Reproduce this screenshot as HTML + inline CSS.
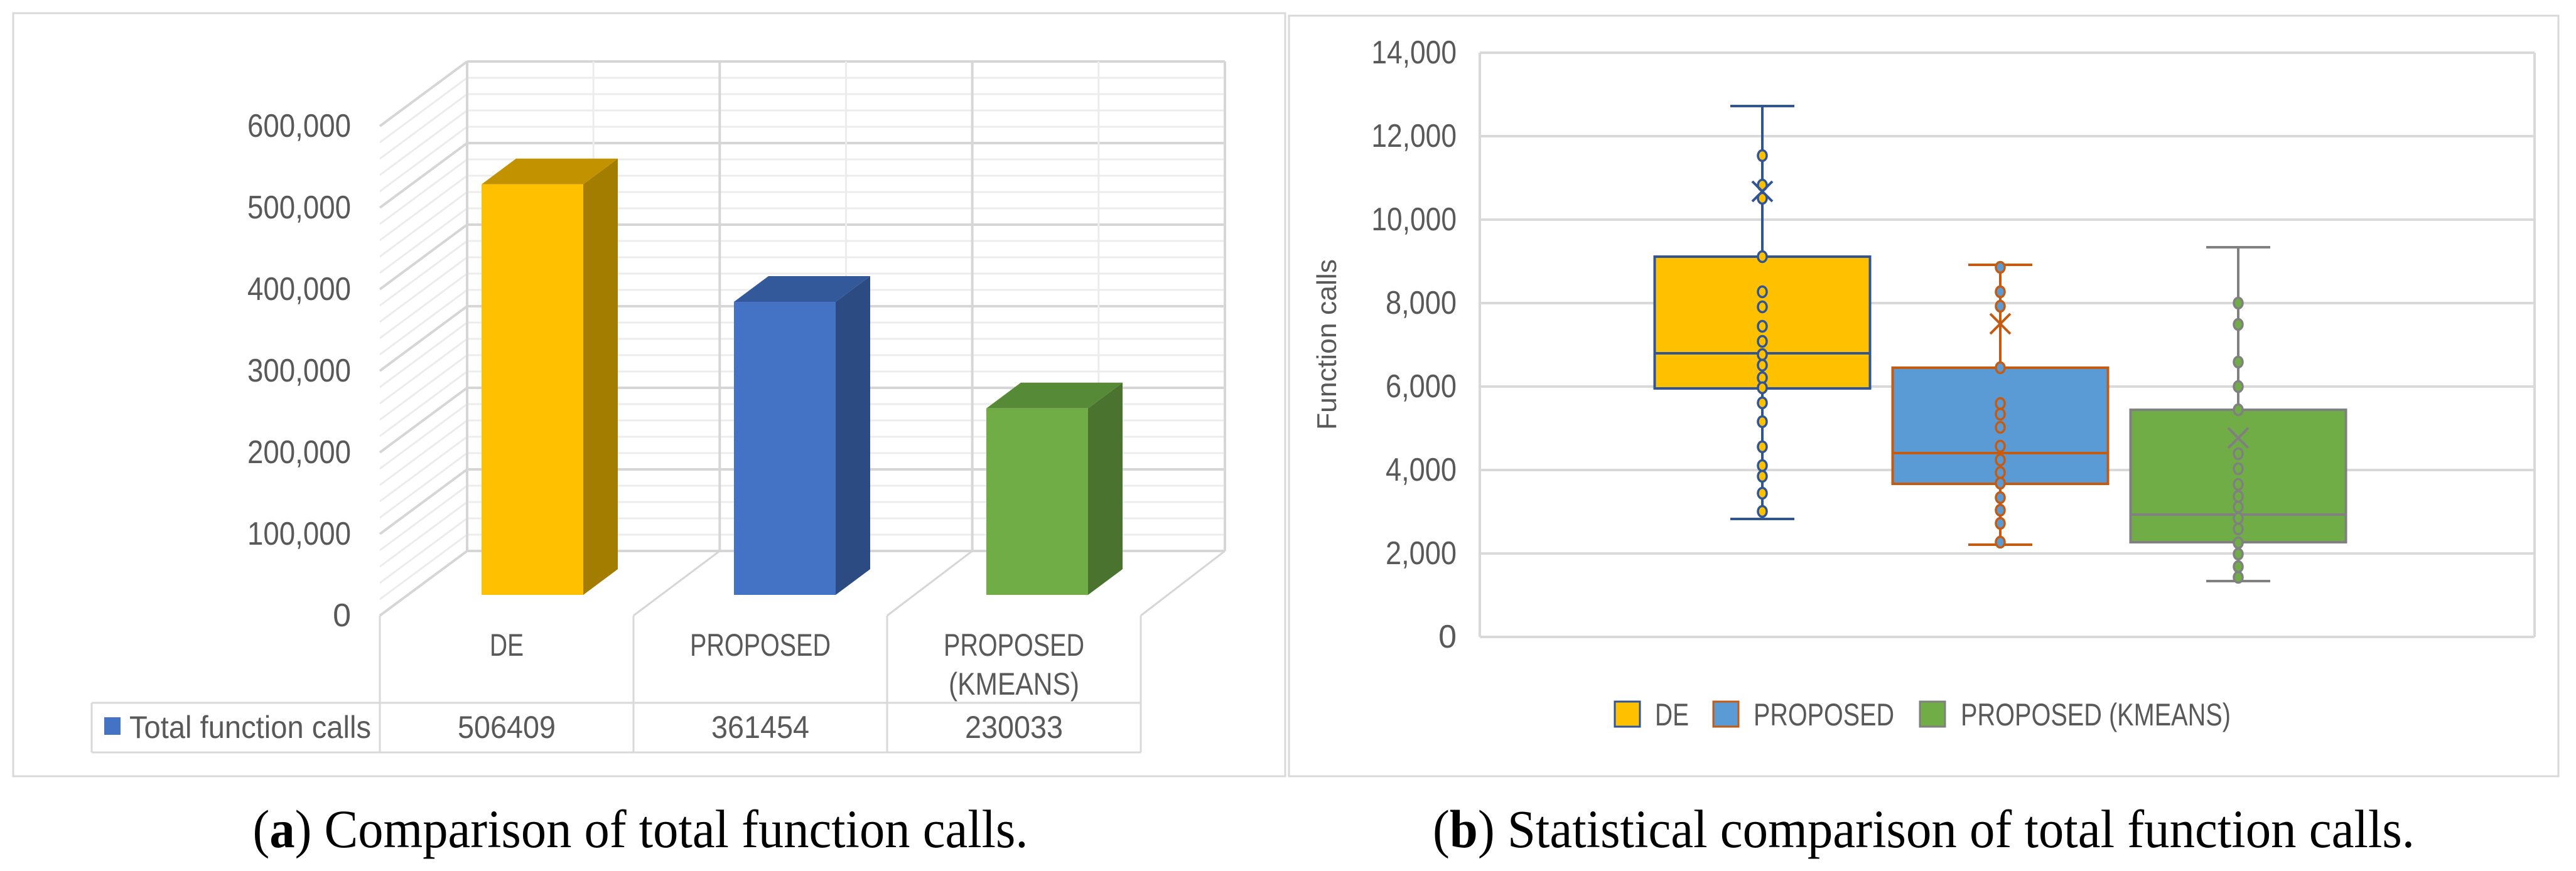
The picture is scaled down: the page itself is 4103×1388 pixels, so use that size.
<!DOCTYPE html>
<html><head><meta charset="utf-8"><style>
html,body{margin:0;padding:0;background:#fff;}
svg{display:block;}
text{font-family:"Liberation Sans",sans-serif;fill:#595959;}
.cap{font-family:"Liberation Serif",serif;fill:#000;}
</style></head><body>
<svg id="root" width="4103" height="1388" viewBox="0 0 4103 1388" xmlns="http://www.w3.org/2000/svg">
<rect x="21" y="21" width="2026" height="1216" fill="#fff" stroke="#d9d9d9" stroke-width="3"/>
<rect x="2053" y="25" width="2022" height="1212" fill="#fff" stroke="#d9d9d9" stroke-width="3"/>
<g id="chartA"></g>
<g id="chartB"></g>
<text class="cap" x="1020" y="1350" font-size="86" text-anchor="middle" textLength="1235" lengthAdjust="spacingAndGlyphs">(<tspan font-weight="bold">a</tspan>) Comparison of total function calls.</text>
<text class="cap" x="3064" y="1350" font-size="86" text-anchor="middle" textLength="1564" lengthAdjust="spacingAndGlyphs">(<tspan font-weight="bold">b</tspan>) Statistical comparison of total function calls.</text>
</svg>
<script>
// ---- Chart A data ----
const catsA = ["DE", "PROPOSED", "PROPOSED (KMEANS)"];
const valuesA = [506409, 361454, 230033];
const ticksA = [0, 100000, 200000, 300000, 400000, 500000, 600000];
// ---- Chart B data ----
const catsB = ["DE", "PROPOSED", "PROPOSED (KMEANS)"];
const minB = [2827, 2210, 1338];
const q1B = [5955, 3669, 2270];
const medB = [6797, 4406, 2932];
const q3B = [9113, 6451, 5443];
const maxB = [12722, 8917, 9338];
const meanB = [10677, 7504, 4767];
const ptsDE = [11534,10827,10511,9113,8271,7910,7444,7083,6767,6511,6211,5970,5609,5158,4556,4105,3850,3444,3008];
const ptsP = [8857,8271,7925,6451,5594,5338,5023,4571,4241,3940,3684,3338,3038,2722,2270];
const ptsK = [8000,7489,6586,6000,5443,4391,4030,3654,3368,3113,2842,2586,2256,1985,1684,1429];
const ticksB = [0,2000,4000,6000,8000,10000,12000,14000];

const NS = "http://www.w3.org/2000/svg";
function mk(parent, tag, attrs, txt){const e=document.createElementNS(NS,tag);for(const k in attrs)e.setAttribute(k,attrs[k]);if(txt!==undefined)e.textContent=txt;parent.appendChild(e);return e;}
const fmt = v => v.toLocaleString("en-US");

// ===== Chart A =====
(function(){
const g = document.getElementById("chartA");
const backL=744, backR=1951, back0=878, ddx=-139, ddy=103;
const pxPer = 130/100000;
const yBack = v => back0 - v*pxPer;
const yFrontAxis = v => back0 + ddy - v*pxPer;
for(let v=0; v<=600000; v+=20000){
  const major = v%100000===0;
  const col = major ? "#d6d6d6" : "#ececec";
  const l1 = mk(g,"line",{x1:backL,y1:yBack(v),x2:backR,y2:yBack(v),stroke:col,"stroke-width":major?4:3});
  
  
  const l2 = mk(g,"line",{x1:backL+ddx,y1:yBack(v)+ddy,x2:backL,y2:yBack(v),stroke:col,"stroke-width":major?4:3});
  
  
}
const colW = (backR-backL)/3;
for(let i=0;i<=6;i++){
  const x = backL + i*colW/2;
  const major = i%2===0;
  const l = mk(g,"line",{x1:x,y1:yBack(600000),x2:x,y2:back0,stroke:major?"#d6d6d6":"#ececec","stroke-width":major?4:3});
  
  
}
const fL = backL+ddx, fY = back0+ddy;
for(let i=0;i<=3;i++){
  const l = mk(g,"line",{x1:fL+i*404,y1:fY,x2:backL+i*colW,y2:back0,stroke:"#d6d6d6","stroke-width":3});
  
  
}
const tcol = 404;
const tx0 = 146, tx1 = 605;
const tb = [
 ["line",{x1:tx1,y1:fY,x2:tx1,y2:1199}],
 ["line",{x1:tx0,y1:1120,x2:tx1+3*tcol,y2:1120}],
 ["line",{x1:tx0,y1:1199,x2:tx1+3*tcol,y2:1199}],
 ["line",{x1:tx0,y1:1120,x2:tx0,y2:1199}]
];
for(let i=1;i<=3;i++) tb.push(["line",{x1:tx1+i*tcol,y1:fY,x2:tx1+i*tcol,y2:1199}]);
tb.forEach(([t,a])=>{a.stroke="#d9d9d9";a["stroke-width"]=3;const l=mk(g,t,a);
  
  });
ticksA.forEach(v=>{
  const s = fmt(v);
  const a = {x:559,y:yFrontAxis(v)+17,"font-size":52,"text-anchor":"end"};
  if(s.length>1){a.textLength=165*s.length/7;a.lengthAdjust="spacingAndGlyphs";}
  const t = mk(g,"text",a,s);
  
  
});
const fronts=["#FFC000","#4472C4","#70AD47"], sides=["#A37D00","#2B4B82","#4A732F"], tops=["#C29200","#34599A","#578A36"];
const bw=162, bdx=55, bdy=-41, bBase=948;
catsA.forEach((c,i)=>{
  const cx = 848 + i*402;
  const x0 = cx-bw/2, x1 = cx+bw/2;
  const yt = bBase - valuesA[i]*pxPer*0.9938;
  const bg = mk(g,"g",{});
  
  
  mk(bg,"polygon",{points:`${x1},${yt} ${x1+bdx},${yt+bdy} ${x1+bdx},${bBase+bdy} ${x1},${bBase}`,fill:sides[i]});
  mk(bg,"polygon",{points:`${x0},${yt} ${x0+bdx},${yt+bdy} ${x1+bdx},${yt+bdy} ${x1},${yt}`,fill:tops[i]});
  mk(bg,"rect",{x:x0,y:yt,width:bw,height:bBase-yt,fill:fronts[i]});
  const tcx = tx1 + (i+0.5)*tcol;
  if(i===2){
    const t1 = mk(g,"text",{x:tcx,y:1045,"font-size":50,"text-anchor":"middle",textLength:224,lengthAdjust:"spacingAndGlyphs"},"PROPOSED");
    
    
    const t2 = mk(g,"text",{x:tcx,y:1107,"font-size":50,"text-anchor":"middle",textLength:208,lengthAdjust:"spacingAndGlyphs"},"(KMEANS)");
    
    
  } else {
    const a={x:tcx,y:1045,"font-size":50,"text-anchor":"middle",lengthAdjust:"spacingAndGlyphs",textLength:c==="PROPOSED"?224:54};
    const t = mk(g,"text",a,c);
    
    
  }
  const tv = mk(g,"text",{x:tcx,y:1176,"font-size":50,"text-anchor":"middle",textLength:156,lengthAdjust:"spacingAndGlyphs"},String(valuesA[i]));
  
  
});
const ls = mk(g,"rect",{x:166,y:1143,width:26,height:28,fill:"#4472C4"});


const lt = mk(g,"text",{x:206,y:1176,"font-size":50,textLength:385,lengthAdjust:"spacingAndGlyphs"},"Total function calls");


})();

// ===== Chart B =====
(function(){
const g = document.getElementById("chartB");
const pL=2357, pR=4037, y0=1015, per=133/2000;
const y = v => y0 - v*per;
const xC = i => 2807 + i*379;
ticksB.forEach(v=>{
  const l = mk(g,"line",{x1:pL,y1:y(v),x2:pR,y2:y(v),stroke:"#d9d9d9","stroke-width":4});
  
  
  const s = fmt(v);
  const a = {x:2320,y:y(v)+17,"font-size":52,"text-anchor":"end"};
  if(s.length>1){a.textLength=s.length*22.6;a.lengthAdjust="spacingAndGlyphs";}
  const t = mk(g,"text",a,s);
  
  
});
const ax = mk(g,"line",{x1:pL,y1:y(14000),x2:pL,y2:y0,stroke:"#d9d9d9","stroke-width":4});


const rl = mk(g,"line",{x1:pR,y1:y(14000),x2:pR,y2:y0,stroke:"#d9d9d9","stroke-width":4});


const yt = mk(g,"text",{x:0,y:0,"font-size":44,"text-anchor":"middle",transform:"translate(2128,549) rotate(-90)",textLength:272,lengthAdjust:"spacingAndGlyphs"},"Function calls");



const fills=["#FFC000","#5B9BD5","#70AD47"], strokes=["#2F5597","#C55A11","#808080"];
const pts=[ptsDE,ptsP,ptsK];
const bw=343, cap=102;
catsB.forEach((c,i)=>{
  const cx=xC(i);
  const bg = mk(g,"g",{});
  
  
  const st={stroke:strokes[i],"stroke-width":4};
  mk(bg,"line",Object.assign({x1:cx,y1:y(maxB[i]),x2:cx,y2:y(q3B[i])},st));
  mk(bg,"line",Object.assign({x1:cx,y1:y(q1B[i]),x2:cx,y2:y(minB[i])},st));
  mk(bg,"line",Object.assign({x1:cx-cap/2,y1:y(maxB[i]),x2:cx+cap/2,y2:y(maxB[i])},st));
  mk(bg,"line",Object.assign({x1:cx-cap/2,y1:y(minB[i]),x2:cx+cap/2,y2:y(minB[i])},st));
  mk(bg,"rect",Object.assign({x:cx-bw/2,y:y(q3B[i]),width:bw,height:y(q1B[i])-y(q3B[i]),fill:fills[i]},st));
  mk(bg,"line",Object.assign({x1:cx-bw/2,y1:y(medB[i]),x2:cx+bw/2,y2:y(medB[i])},st));
  pts[i].forEach(v=>{
    const p = mk(bg,"ellipse",{cx:cx,cy:y(v),rx:7,ry:8.5,fill:fills[i],stroke:strokes[i],"stroke-width":3.5});
    
    
  });
  const my=y(meanB[i]);
  const m = mk(bg,"path",{d:`M${cx-16},${my-16}L${cx+16},${my+16}M${cx+16},${my-16}L${cx-16},${my+16}`,stroke:strokes[i],"stroke-width":4,fill:"none"});
  
  
});
const lx=[2572,2729,3058], tx=[2636,2793,3123], tl=[54,224,430];
catsB.forEach((c,i)=>{
  const s = mk(g,"rect",{x:lx[i],y:1118,width:40,height:40,fill:fills[i],stroke:strokes[i],"stroke-width":3});
  
  
  const t = mk(g,"text",{x:tx[i],y:1156,"font-size":50,textLength:tl[i],lengthAdjust:"spacingAndGlyphs"},c);
  
  
});
})();
</script>
</body></html>
